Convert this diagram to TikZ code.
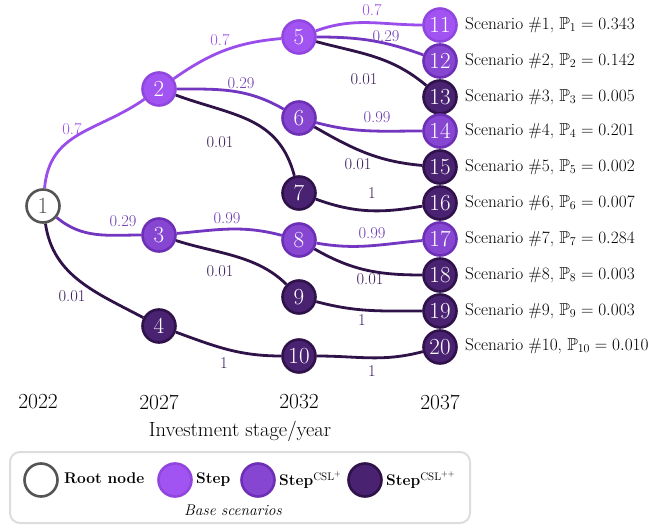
\documentclass[tikz,border=0pt]{standalone}
\usepackage{amssymb}
\begin{document}
\begin{tikzpicture}[x=1pt,y=-1pt,
  every node/.style={inner sep=0pt},
  nd/.style={circle,minimum size=33pt,line width=2.6pt,text=white,font=\fontsize{23}{23}\selectfont},
  rootn/.style={nd,fill=white,draw=rootgray,text=rootgray},
  stepn/.style={nd,fill=stepF,draw=stepD},
  cslpn/.style={nd,fill=cslpF,draw=cslpD},
  cslppn/.style={nd,fill=cslppF,draw=cslppD},
  ed/.style={line width=2.8pt},
  stepe/.style={ed,draw=stepE},
  cslpe/.style={ed,draw=cslpE},
  cslppe/.style={ed,draw=cslppE},
  lab/.style={font=\fontsize{16.5}{17}\selectfont},
  stepl/.style={lab,text=stepE},
  cslpl/.style={lab,text=cslpL},
  cslppl/.style={lab,text=cslppL},
  scen/.style={anchor=west,font=\fontsize{17.3}{18}\selectfont},
  yr/.style={font=\fontsize{21.5}{22}\selectfont},
  legt/.style={anchor=west,font=\fontsize{15.5}{16}\selectfont\bfseries}
]
\definecolor{rootgray}{HTML}{555555}
\definecolor{stepF}{HTML}{A254F2}
\definecolor{stepD}{HTML}{9246E0}
\definecolor{cslpF}{HTML}{8646D2}
\definecolor{cslpD}{HTML}{6C2FB5}
\definecolor{cslppF}{HTML}{4A2272}
\definecolor{cslppD}{HTML}{2F1249}
\definecolor{stepE}{HTML}{9A4DEA}
\definecolor{cslpE}{HTML}{7236C0}
\definecolor{cslppE}{HTML}{2E1248}
\definecolor{cslpL}{HTML}{6E3CB0}
\definecolor{cslppL}{HTML}{3A1D5C}
\definecolor{legbox}{HTML}{DDDDDD}
\useasboundingbox (0,0) rectangle (672,526);

% nodes
\node[rootn] (n1) at (43,206) {1};
\node[stepn] (n2) at (159,89) {2};
\node[cslpn] (n3) at (159,235) {3};
\node[cslppn] (n4) at (159,326) {4};
\node[stepn] (n5) at (299,37) {5};
\node[cslpn] (n6) at (299,118) {6};
\node[cslppn] (n7) at (299,193) {7};
\node[cslpn] (n8) at (299,240) {8};
\node[cslppn] (n9) at (299,297) {9};
\node[cslppn] (n10) at (299,356) {10};
\node[stepn] (n11) at (440,25) {11};
\node[cslpn] (n12) at (440,61) {12};
\node[cslppn] (n13) at (440,97) {13};
\node[cslpn] (n14) at (440,131) {14};
\node[cslppn] (n15) at (440,167) {15};
\node[cslppn] (n16) at (440,203) {16};
\node[cslpn] (n17) at (440,239) {17};
\node[cslppn] (n18) at (440,275) {18};
\node[cslppn] (n19) at (440,311) {19};
\node[cslppn] (n20) at (440,347) {20};

% edges
\draw[stepe] (n1) to[out=85,in=215,looseness=1.1] (n2);
\draw[cslpe] (n1) to[out=-40,in=180] (n3);
\draw[cslppe] (n1) to[out=-82,in=152] (n4);
\draw[stepe] (n2) to[out=35,in=185] (n5);
\draw[cslpe] (n2) to[out=0,in=150] (n6);
\draw[cslppe] (n2) to[out=-20,in=105,looseness=1.1] (n7);
\draw[cslpe] (n3) to[out=5,in=165] (n8);
\draw[cslppe] (n3) to[out=-18,in=135,looseness=0.9] (n9);
\draw[cslppe] (n4) to[out=-20,in=180] (n10);
\draw[stepe] (n5) to[out=20,in=180] (n11);
\draw[cslpe] (n5) to[out=0,in=160] (n12);
\draw[cslppe] (n5) to[out=-15,in=140] (n13);
\draw[cslpe] (n6) to[out=-15,in=180] (n14);
\draw[cslppe] (n6) to[out=-30,in=175] (n15);
\draw[cslppe] (n7) to[out=-20,in=190] (n16);
\draw[cslpe] (n8) to[out=-10,in=185] (n17);
\draw[cslppe] (n8) to[out=-30,in=180] (n18);
\draw[cslppe] (n9) to[out=-15,in=180] (n19);
\draw[cslppe] (n10) to[out=0,in=195] (n20);

% edge labels
\node[stepl] (l12) at (72,129) {0.7};
\node[cslpl] (l13) at (123,221) {0.29};
\node[cslppl] (l14) at (72,296) {0.01};
\node[stepl] (l25) at (220,40) {0.7};
\node[cslpl] (l26) at (241,83) {0.29};
\node[cslppl] (l27) at (220,142) {0.01};
\node[cslpl] (l38) at (227,218) {0.99};
\node[cslppl] (l39) at (220,271) {0.01};
\node[cslppl] (l410) at (224,363) {1};
\node[stepl] (l511) at (372,10) {0.7};
\node[cslpl] (l512) at (386,36) {0.29};
\node[cslppl] (l513) at (364,79) {0.01};
\node[cslpl] (l614) at (377,117) {0.99};
\node[cslppl] (l615) at (358,164) {0.01};
\node[cslppl] (l716) at (372,193) {1};
\node[cslpl] (l817) at (372,233) {0.99};
\node[cslppl] (l818) at (370,279) {0.01};
\node[cslppl] (l919) at (362,320) {1};
\node[cslppl] (l1020) at (372,371) {1};

% scenario labels
\node[scen] (s1) at (465,25) {Scenario \#1, $\mathbb{P}_{1} = 0.343$};
\node[scen] (s2) at (465,61) {Scenario \#2, $\mathbb{P}_{2} = 0.142$};
\node[scen] (s3) at (465,97) {Scenario \#3, $\mathbb{P}_{3} = 0.005$};
\node[scen] (s4) at (465,131) {Scenario \#4, $\mathbb{P}_{4} = 0.201$};
\node[scen] (s5) at (465,167) {Scenario \#5, $\mathbb{P}_{5} = 0.002$};
\node[scen] (s6) at (465,203) {Scenario \#6, $\mathbb{P}_{6} = 0.007$};
\node[scen] (s7) at (465,239) {Scenario \#7, $\mathbb{P}_{7} = 0.284$};
\node[scen] (s8) at (465,275) {Scenario \#8, $\mathbb{P}_{8} = 0.003$};
\node[scen] (s9) at (465,311) {Scenario \#9, $\mathbb{P}_{9} = 0.003$};
\node[scen] (s10) at (465,346) {Scenario \#10, $\mathbb{P}_{10} = 0.010$};

% years
\node[yr] (y1) at (38,402) {2022};
\node[yr] (y2) at (159,402) {2027};
\node[yr] (y3) at (299,402) {2032};
\node[yr] (y4) at (440,402) {2037};
\node[font=\fontsize{20.5}{21}\selectfont] (xl) at (240,431) {Investment stage/year};

% legend
\draw[legbox,line width=2pt,rounded corners=10pt] (10,452) rectangle (470,523);
\node[rootn] (g1) at (41,480) {};
\node[legt] (t1) at (64,478) {Root node};
\node[stepn] (g2) at (175,480) {};
\node[legt] (t2) at (196,480) {Step};
\node[cslpn] (g3) at (258,480) {};
\node[legt] (t3) at (279,480) {Step$^{\mathrm{CSL}^{+}}$};
\node[cslppn] (g4) at (365,480) {};
\node[legt] (t4) at (386,480) {Step$^{\mathrm{CSL}^{++}}$};
\node[font=\fontsize{15.5}{16}\selectfont\itshape] (bs) at (233,510) {Base scenarios};
\end{tikzpicture}
\end{document}
